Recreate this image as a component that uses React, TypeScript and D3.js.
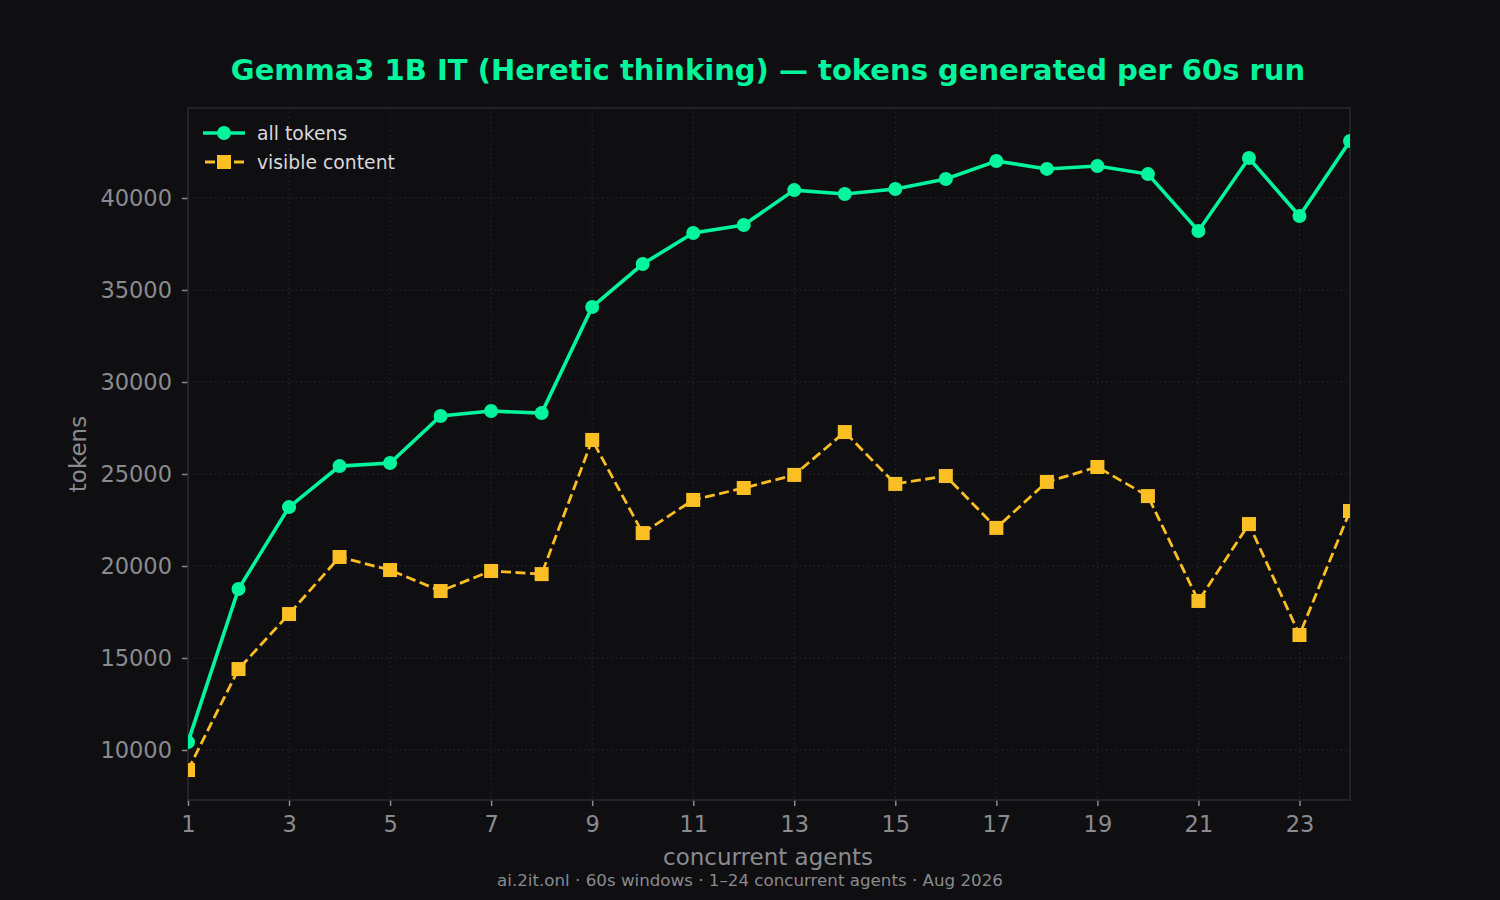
import * as d3 from 'd3'
import React, { useEffect, useRef } from 'react'

const agents = d3.range(1, 25)
const allTokens = [
  10430, 18750, 23200, 25430, 25600, 28150, 28420, 28310, 34080, 36410, 38100, 38530, 40430, 40220, 40490,
  41030, 42010, 41580, 41740, 41300, 38210, 42170, 39020, 43100,
]
const visibleContent = [
  8910, 14400, 17390, 20490, 19780, 18640, 19730, 19560, 26850, 21790, 23590, 24240, 24950, 27280, 24460,
  24890, 22070, 24570, 25380, 23800, 18100, 22280, 16250, 22990,
]
const xTicks = [1, 3, 5, 7, 9, 11, 13, 15, 17, 19, 21, 23]
const yTicks = [10000, 15000, 20000, 25000, 30000, 35000, 40000]

const W = 1500
const H = 900
const green = '#00f59c'
const amber = '#fbbf24'
const bg = '#0f0f11'
const font = 'DejaVu Sans, sans-serif'

const App: React.FC = () => {
  const ref = useRef<SVGSVGElement>(null)

  useEffect(() => {
    document.body.style.margin = '0'
    document.body.style.background = bg

    const margin = { top: 108, right: 150, bottom: 100, left: 188 }
    const width = W - margin.left - margin.right
    const height = H - margin.top - margin.bottom

    const root = d3.select(ref.current)
    root.selectAll('*').remove()

    root.append('rect').attr('width', W).attr('height', H).attr('fill', bg)

    root
      .append('defs')
      .append('clipPath')
      .attr('id', 'plot-clip')
      .append('rect')
      .attr('width', width)
      .attr('height', height)

    const x = d3.scaleLinear().domain([1, 24]).range([0, width])
    const y = d3.scaleLinear().domain([7283, 44891]).range([height, 0])

    const svg = root.append('g').attr('transform', `translate(${margin.left},${margin.top})`)

    // grid
    svg
      .append('g')
      .selectAll('line')
      .data(yTicks)
      .enter()
      .append('line')
      .attr('x1', 0)
      .attr('x2', width)
      .attr('y1', (d) => y(d))
      .attr('y2', (d) => y(d))
      .attr('stroke', '#2c2c31')
      .attr('stroke-dasharray', '1.5,3')
    svg
      .append('g')
      .selectAll('line')
      .data(xTicks)
      .enter()
      .append('line')
      .attr('x1', (d) => x(d))
      .attr('x2', (d) => x(d))
      .attr('y1', 0)
      .attr('y2', height)
      .attr('stroke', '#2c2c31')
      .attr('stroke-dasharray', '1.5,3')

    // axes
    const xAxis = svg
      .append('g')
      .attr('transform', `translate(0,${height})`)
      .call(d3.axisBottom(x).tickValues(xTicks).tickFormat(d3.format('d')).tickSize(6).tickPadding(10))
    const yAxis = svg
      .append('g')
      .call(d3.axisLeft(y).tickValues(yTicks).tickFormat(d3.format('d')).tickSize(6).tickPadding(10))
    ;[xAxis, yAxis].forEach((a) => {
      a.select('.domain').remove()
      a.selectAll('line').attr('stroke', '#8a8a8f').attr('stroke-width', 1.5)
      a.selectAll('text').attr('fill', '#8a8a8f').attr('font-size', 22.5).attr('font-family', font)
    })

    // frame
    svg
      .append('rect')
      .attr('width', width)
      .attr('height', height)
      .attr('fill', 'none')
      .attr('stroke', '#2a2a30')
      .attr('stroke-width', 1.5)

    const plot = svg.append('g').attr('clip-path', 'url(#plot-clip)')

    const lineFor = (vals: number[]) =>
      d3
        .line<number>()
        .x((_, i) => x(agents[i]))
        .y((d) => y(d))(vals)

    plot
      .append('path')
      .attr('d', lineFor(visibleContent))
      .attr('fill', 'none')
      .attr('stroke', amber)
      .attr('stroke-width', 2.8)
      .attr('stroke-dasharray', '10,4.5')
    plot
      .selectAll('.sq')
      .data(visibleContent)
      .enter()
      .append('rect')
      .attr('x', (_, i) => x(agents[i]) - 7)
      .attr('y', (d) => y(d) - 7)
      .attr('width', 14)
      .attr('height', 14)
      .attr('fill', amber)

    plot
      .append('path')
      .attr('d', lineFor(allTokens))
      .attr('fill', 'none')
      .attr('stroke', green)
      .attr('stroke-width', 3.6)
    plot
      .selectAll('.dot')
      .data(allTokens)
      .enter()
      .append('circle')
      .attr('cx', (_, i) => x(agents[i]))
      .attr('cy', (d) => y(d))
      .attr('r', 7)
      .attr('fill', green)

    // legend
    const lg = svg.append('g').attr('transform', 'translate(15,25)')
    lg.append('line').attr('x1', 0).attr('x2', 42).attr('stroke', green).attr('stroke-width', 3.6)
    lg.append('circle').attr('cx', 21).attr('r', 7).attr('fill', green)
    lg.append('text')
      .attr('x', 54)
      .attr('dy', '0.35em')
      .text('all tokens')
      .attr('fill', '#d8d8dc')
      .attr('font-size', 18.8)
      .attr('font-family', font)
    const lg2 = lg.append('g').attr('transform', 'translate(0,29)')
    lg2
      .append('line')
      .attr('x1', 2)
      .attr('x2', 42)
      .attr('stroke', amber)
      .attr('stroke-width', 2.8)
      .attr('stroke-dasharray', '10,4.5')
    lg2.append('rect').attr('x', 14).attr('y', -7).attr('width', 14).attr('height', 14).attr('fill', amber)
    lg2
      .append('text')
      .attr('x', 54)
      .attr('dy', '0.35em')
      .text('visible content')
      .attr('fill', '#d8d8dc')
      .attr('font-size', 18.8)
      .attr('font-family', font)

    // labels
    root
      .append('text')
      .attr('x', 768)
      .attr('y', 80)
      .attr('text-anchor', 'middle')
      .attr('fill', green)
      .attr('font-size', 29)
      .attr('font-weight', 'bold')
      .attr('font-family', font)
      .text('Gemma3 1B IT (Heretic thinking) — tokens generated per 60s run')
    root
      .append('text')
      .attr('x', 768)
      .attr('y', 865)
      .attr('text-anchor', 'middle')
      .attr('fill', '#8a8a8f')
      .attr('font-size', 23)
      .attr('font-family', font)
      .text('concurrent agents')
    root
      .append('text')
      .attr('transform', `translate(86,454) rotate(-90)`)
      .attr('text-anchor', 'middle')
      .attr('fill', '#8a8a8f')
      .attr('font-size', 23)
      .attr('font-family', font)
      .text('tokens')
    root
      .append('text')
      .attr('x', 750)
      .attr('y', 886)
      .attr('text-anchor', 'middle')
      .attr('fill', '#8a8a8f')
      .attr('font-size', 16.7)
      .attr('font-family', font)
      .text('ai.2it.onl · 60s windows · 1–24 concurrent agents · Aug 2026')
  }, [])

  return <svg ref={ref} width={W} height={H} style={{ display: 'block' }} />
}

export default App
